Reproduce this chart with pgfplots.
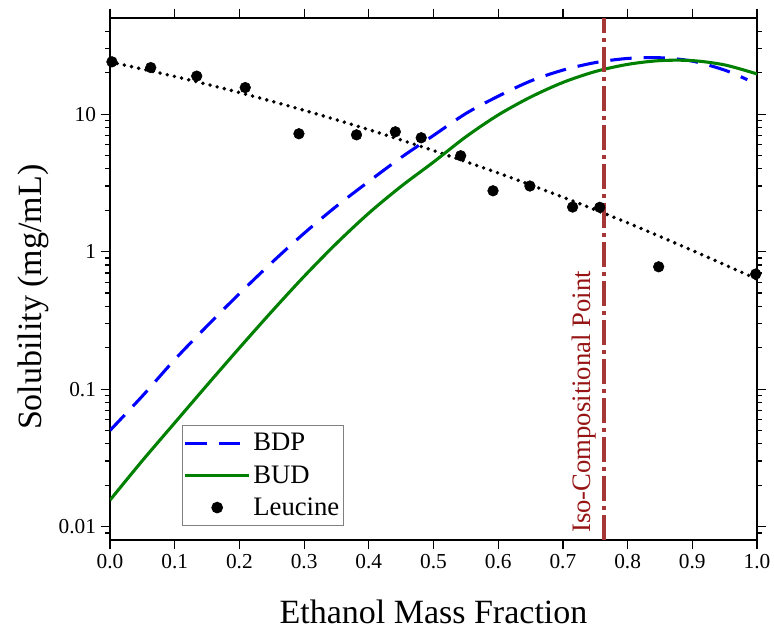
\documentclass[border=0pt]{standalone}
\usepackage{pgfplots}
\pgfplotsset{compat=1.18}
\usepackage{fontspec}
\setmainfont{Liberation Serif}
\definecolor{bdpblue}{RGB}{0,0,255}
\definecolor{budgreen}{RGB}{0,128,0}
\definecolor{isored}{RGB}{165,55,55}
\definecolor{isotext}{RGB}{150,20,20}
\begin{document}
\begin{tikzpicture}
\path[use as bounding box] (0,0) rectangle (580.5pt,474pt);
\begin{axis}[
  at={(82.5pt,69pt)}, anchor=south west,
  scale only axis, width=485.25pt, height=391.5pt,
  ymode=log, xmin=0, xmax=1, ymin=0.008, ymax=50,
  xtick={0,0.1,0.2,0.3,0.4,0.5,0.6,0.7,0.8,0.9,1.0},
  xticklabels={0.0,0.1,0.2,0.3,0.4,0.5,0.6,0.7,0.8,0.9,1.0},
  ytick={0.01,0.1,1,10},
  yticklabels={0.01,0.1,1,10},
  minor ytick={0.009,0.02,0.03,0.04,0.05,0.06,0.07,0.08,0.09,0.2,0.3,0.4,0.5,0.6,0.7,0.8,0.9,2,3,4,5,6,7,8,9,20,30,40},
  tick align=outside,
  major tick length=7pt, minor tick length=3.5pt,
  every tick/.style={black, line width=0.9pt},
  axis line style={line width=1pt},
  tick label style={font=\fontsize{16}{19}\selectfont},
  /pgf/number format/assume math mode=true,
  xlabel={Ethanol Mass Fraction}, ylabel={Solubility (mg/mL)},
  label style={font=\fontsize{25.5}{30}\selectfont},
  xlabel style={at={(axis description cs:0.5,-0.159)}, anchor=base},
  ylabel style={at={(axis description cs:-0.1066,0.465)}, anchor=base},
  legend image code/.code={\draw[mark repeat=2,mark phase=2,#1] plot coordinates {(0pt,0pt)(24pt,0pt)(48pt,0pt)};},
  legend style={at={(0.111,0.027)}, anchor=south west, draw=gray, line width=0.75pt,
    font=\fontsize{20}{24}\selectfont, inner xsep=1pt, inner ysep=4pt, row sep=5.5pt},
  legend cell align=left,
]
\addplot[black, line width=2.9pt, dash pattern=on 0pt off 5.5pt, line cap=round, smooth, forget plot] coordinates {
(0,23.99) (0.1,18.80) (0.2,14.35) (0.3,10.66) (0.4,7.71) (0.5,5.43) (0.6,3.73) (0.7,2.49) (0.8,1.62) (0.9,1.02) (1.0,0.631)};
\addplot[bdpblue, line width=2.3pt, dash pattern=on 16pt off 9pt, smooth] coordinates {
(0,0.0501) (0.05,0.0891) (0.1,0.164) (0.15,0.288) (0.2,0.495) (0.25,0.832) (0.3,1.36) (0.35,2.14) (0.4,3.24) (0.45,4.84) (0.5,7.0) (0.55,10.1) (0.6,13.5) (0.65,17.4) (0.7,20.9) (0.75,23.7) (0.8,25.4) (0.85,25.7) (0.9,24.3) (0.95,20.9) (0.985,17.8)};
\addlegendentry{BDP}
\addplot[budgreen, line width=2.3pt, smooth] coordinates {
(0,0.0156) (0.05,0.0302) (0.1,0.0569) (0.15,0.107) (0.2,0.1995) (0.25,0.367) (0.3,0.661) (0.35,1.148) (0.4,1.905) (0.45,2.985) (0.5,4.48) (0.55,6.84) (0.6,9.86) (0.65,13.3) (0.7,17.0) (0.75,20.4) (0.8,23.0) (0.85,24.5) (0.9,24.5) (0.95,22.8) (1.0,19.6)};
\addlegendentry{BUD}
\addplot[only marks, mark=*, mark size=4pt, black] coordinates {
(0.003,24.0) (0.063,21.8) (0.134,18.9) (0.209,15.6) (0.292,7.2) (0.381,7.07) (0.441,7.44) (0.481,6.73) (0.542,4.98) (0.592,2.77) (0.649,3.0) (0.715,2.11) (0.757,2.10) (0.848,0.776) (0.998,0.687)};
\addlegendentry{Leucine}
\addplot[isored, line width=3.4pt, dash pattern=on 18.75pt off 3.75pt on 3pt off 3.75pt, forget plot] coordinates {(0.7635,0.008) (0.7635,50)};
\node[rotate=90, anchor=base west, inner sep=0pt, text=isotext, font=\fontsize{20}{24}\selectfont] at (axis cs:0.7434,0.009) {Iso-Compositional Point};
\end{axis}
\end{tikzpicture}
\end{document}
